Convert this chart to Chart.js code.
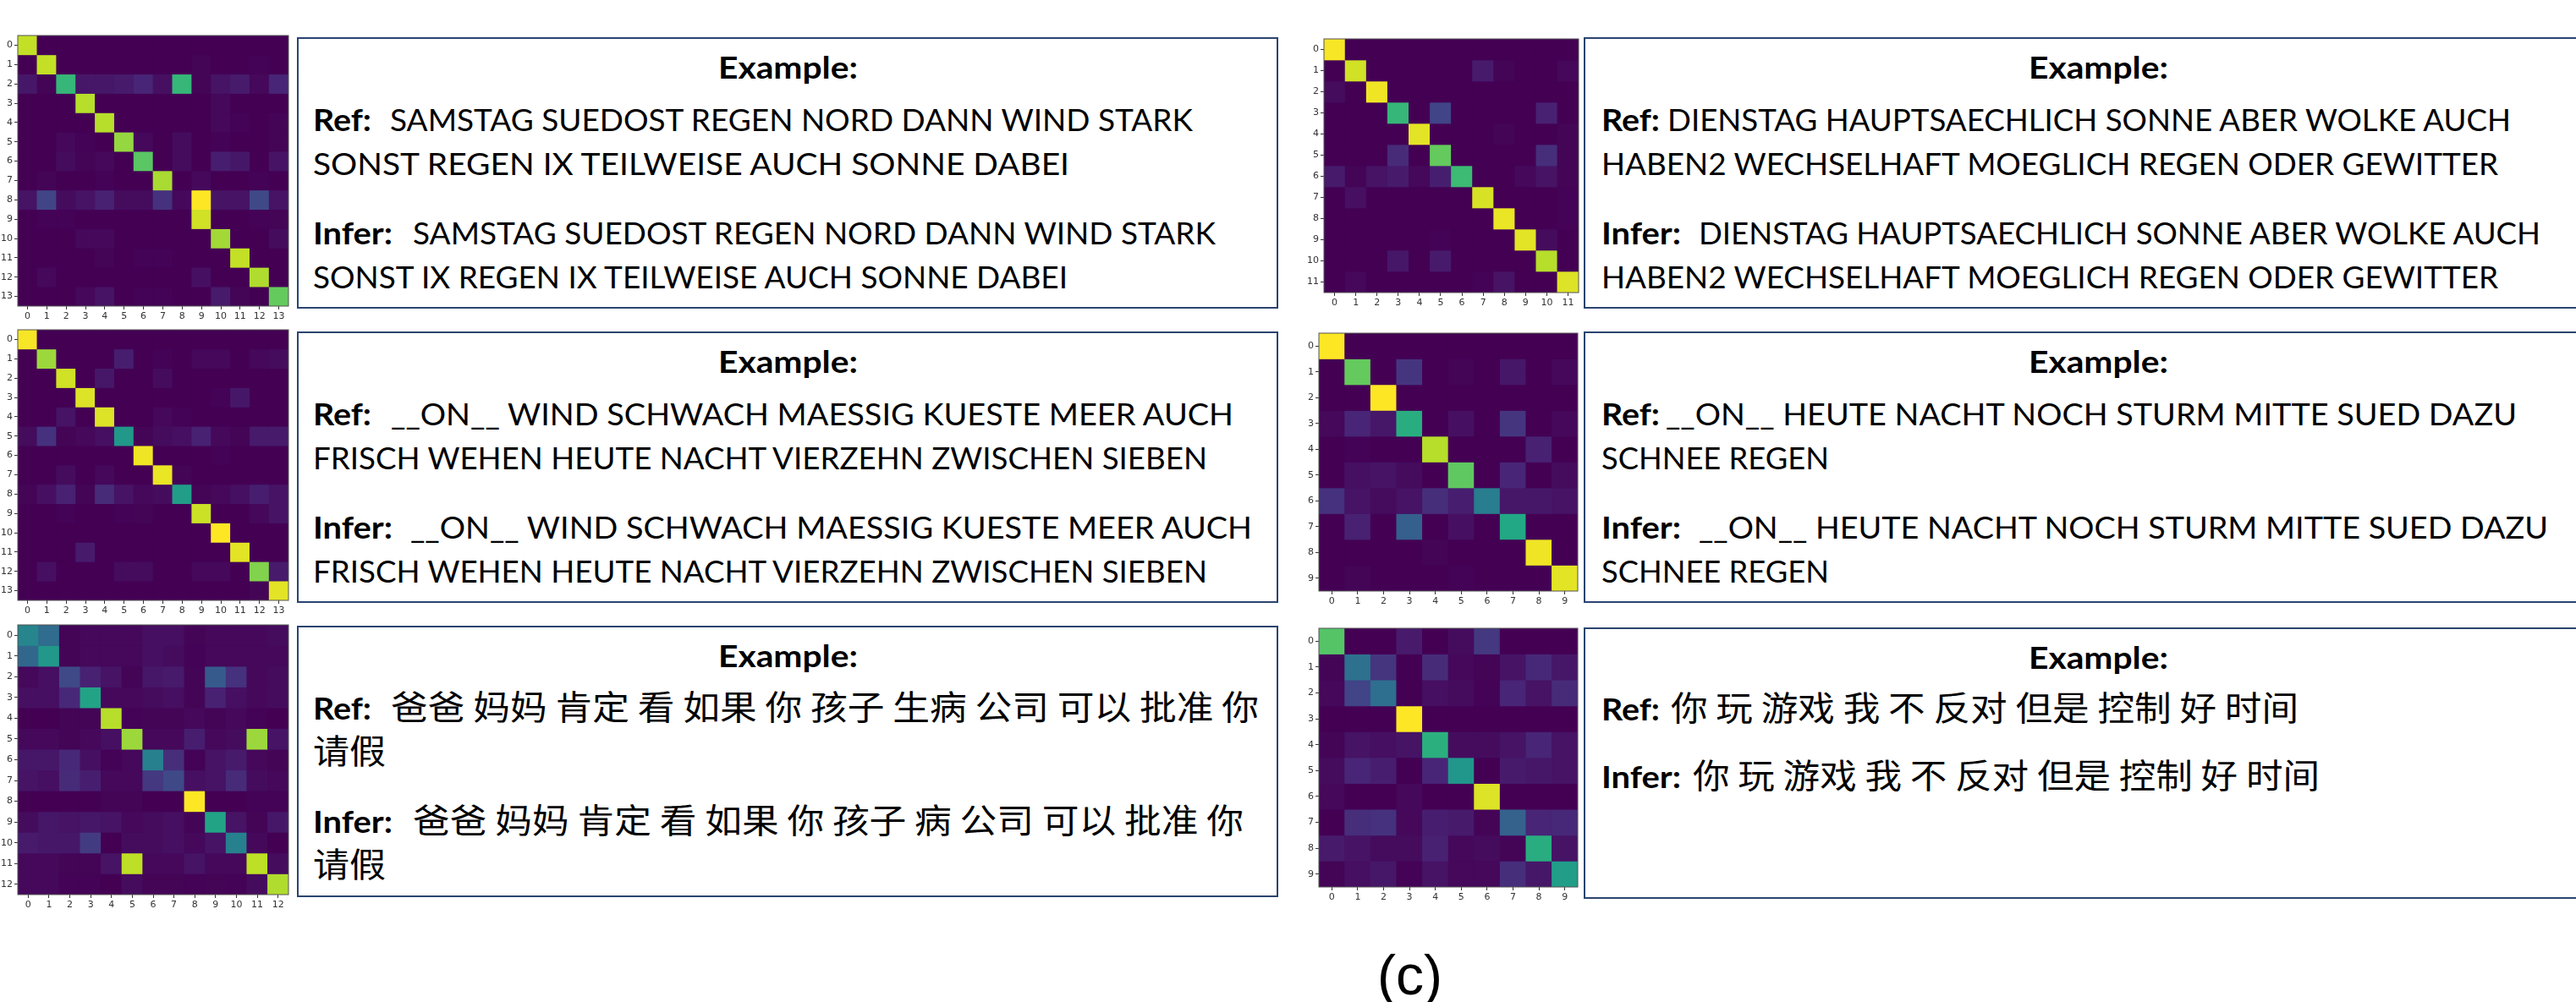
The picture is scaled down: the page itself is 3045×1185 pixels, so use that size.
<!DOCTYPE html>
<html>
<head>
<meta charset="utf-8">
<title>Confusion matrices</title>
<script src="https://cdn.jsdelivr.net/npm/chart.js@4"></script>
<style>
  html, body { margin: 0; padding: 0; background: #fff; width: 3045px; height: 1185px; overflow: hidden; }
  canvas { position: absolute; }
  .box { position: absolute; box-sizing: border-box; border: 2px solid #2b4470; }
  .line { position: absolute; white-space: pre; line-height: 0; font-family: Lato, "Noto Sans CJK SC", sans-serif; font-size: 36px; color: #000; transform-origin: left top; }
  .line i { display: inline-block; width: 0; height: 100px; }
  .bold { font-weight: 700; }
  .cjk { font-family: "Noto Sans CJK SC", sans-serif; font-size: 40px; }
  #caption { position: absolute; left: 1628px; top: 1120px; font: 66px/66px "Liberation Sans", sans-serif; color: #000; }
</style>
</head>
<body>
<div id="page"></div>
<div id="caption">(c)</div>
<script>
// valeurs (0 = violet, 1 = jaune)
const matrixA = [
  [.91,0,0,0,0,0,0,0,0,0,0,0,0,0],
  [0,.91,0,0,0,0,0,0,0,.01,0,0,.005,0],
  [.06,.01,.66,.06,.06,.07,.1,.04,.66,.01,.05,.07,.02,.1],
  [0,0,0,.89,0,0,0,0,0,0,.02,0,0,0],
  [0,0,0,0,.89,0,0,0,0,0,.02,.005,0,.01],
  [0,0,.02,.005,0,.84,.02,0,.03,0,.005,0,0,.01],
  [0,0,.03,.01,.02,0,.74,0,.03,0,.08,.06,0,.05],
  [0,.01,0,0,.005,0,0,.87,0,.02,0,0,.005,0],
  [.05,.2,.03,.05,.09,.03,.03,.14,.02,1,.05,.05,.22,.05],
  [0,.005,.005,0,0,0,0,0,0,.93,0,0,.005,.01],
  [0,0,0,.02,.02,0,0,0,0,0,.86,0,0,.03],
  [0,0,0,0,.01,0,.005,.005,0,0,0,.91,0,0],
  [0,.02,0,0,0,0,0,0,0,.04,0,0,.88,0],
  [0,0,0,.02,.05,0,.005,.005,0,0,.07,.01,0,.76]
];
const matrixB = [
  [.99,0,0,0,0,0,0,0,0,0,0,0,0,0],
  [0,.85,0,0,0,.08,0,.005,0,.02,.02,0,.02,.03],
  [0,0,.93,0,.06,0,0,.03,0,0,0,0,0,0],
  [0,0,0,.95,0,0,0,0,0,0,.005,.06,0,0],
  [0,0,.05,0,.95,0,0,.02,.005,0,0,0,0,0],
  [.03,.14,.01,.02,.04,.53,.01,.03,.04,.09,.02,.01,.07,.07],
  [0,0,0,0,0,0,.98,0,0,0,.005,0,0,0],
  [0,0,.03,0,.02,0,0,.97,.01,0,0,0,0,0],
  [.01,.04,.09,.01,.12,.05,.02,.03,.55,.01,.02,.04,.08,.05],
  [0,0,.005,0,0,.005,.01,0,0,.92,0,0,.02,.05],
  [0,0,0,0,0,0,0,0,0,0,1,0,0,0],
  [0,0,0,.07,0,0,0,0,0,0,0,.96,0,0],
  [0,.04,0,0,0,.03,.03,0,0,.02,.02,0,.81,.07],
  [0,0,0,0,0,0,0,0,0,0,0,0,.01,.96]
];
const matrixC = [
  [.45,.35,.01,.02,.02,.02,.04,.04,.01,.02,.02,.02,.03],
  [.33,.53,.01,.02,.02,.02,.04,.03,.005,.02,.02,.02,.02],
  [.02,.04,.22,.09,.05,.01,.06,.07,.01,.28,.14,.02,.03],
  [.04,.04,.11,.58,.02,.02,.03,.04,.01,.09,.04,.02,.03],
  [0,0,.01,.01,.89,.005,.01,.01,.02,.01,.02,.005,0],
  [.02,.02,.01,.02,.04,.85,.02,.02,.08,.02,.03,.85,.05],
  [.06,.06,.11,.04,.005,.02,.43,.13,.005,.05,.07,.02,.01],
  [.05,.04,.12,.08,.02,.02,.16,.22,.04,.05,.12,.03,.02],
  [0,0,0,0,.01,.01,0,0,1,0,0,.005,.005],
  [.03,.06,.05,.06,.05,.02,.03,.04,.01,.58,.05,.01,.06],
  [.07,.06,.06,.17,0,.03,.03,.04,.02,.05,.43,.02,0],
  [.02,.02,.01,.01,.05,.9,.02,.02,.05,.02,.02,.9,.03],
  [.02,.02,.005,.005,0,.03,.01,.01,.005,.01,.005,.03,.88]
];
const matrixD = [
  [.99,0,0,0,0,0,0,0,0,0,0,0],
  [0,.93,0,0,0,0,0,.07,.01,0,0,.02],
  [.03,0,.98,0,0,0,0,0,0,0,0,0],
  [0,0,0,.66,0,.2,0,0,0,0,.09,0],
  [0,0,0,0,.96,0,0,0,.01,0,0,.01],
  [0,0,0,.12,0,.76,0,0,0,0,.13,.01],
  [.07,.01,.05,.07,.02,.08,.68,0,0,.02,.05,.01],
  [0,.04,0,0,0,0,0,.94,0,0,0,.005],
  [0,0,0,0,0,0,0,0,.97,0,0,.005],
  [0,0,0,0,0,.005,0,0,0,.96,.03,0],
  [0,0,0,.06,0,.07,0,0,0,0,.89,0],
  [0,.02,0,0,0,0,0,.005,.05,0,0,.95]
];
const matrixE = [
  [1,0,0,0,0,0,0,0,0,0],
  [0,.76,0,.15,0,.01,0,.06,0,.02],
  [0,0,1,0,0,0,0,0,0,0],
  [.02,.1,.06,.62,0,.04,0,.15,0,.02],
  [0,.005,0,0,.89,0,0,0,.09,0],
  [0,.04,.05,.03,0,.75,0,.1,0,.03],
  [.14,.05,.03,.05,.13,.08,.42,.06,.06,.05],
  [0,.09,0,.3,0,.04,0,.6,0,0],
  [0,0,0,0,.01,0,0,0,.98,0],
  [0,.01,0,0,0,.005,0,0,0,.96]
];
const matrixF = [
  [.73,0,0,.07,0,.03,.16,0,0,0],
  [.01,.37,.15,0,.12,.02,.01,.05,.11,.06],
  [.02,.2,.36,0,.04,.03,.005,.1,.05,.12],
  [0,0,0,1,0,0,0,0,0,0],
  [.01,.05,.04,.05,.63,.03,.03,.05,.1,.05],
  [.03,.1,.08,0,.1,.52,0,.07,.06,.05],
  [.02,0,0,.02,0,0,.95,0,0,0],
  [0,.13,.14,.02,.08,.07,.01,.31,.1,.11],
  [.07,.05,.03,.03,.09,.02,.03,.01,.62,.05],
  [.01,.04,.06,.005,.05,.02,.02,.13,.06,.55]
];

const textA = ["SAMSTAG SUEDOST REGEN NORD DANN WIND STARK", "SONST REGEN IX TEILWEISE AUCH SONNE DABEI", "SAMSTAG SUEDOST REGEN NORD DANN WIND STARK", "SONST IX REGEN IX TEILWEISE AUCH SONNE DABEI"];
const textB = ["__ON__ WIND SCHWACH MAESSIG KUESTE MEER AUCH", "FRISCH WEHEN HEUTE NACHT VIERZEHN ZWISCHEN SIEBEN", "__ON__ WIND SCHWACH MAESSIG KUESTE MEER AUCH", "FRISCH WEHEN HEUTE NACHT VIERZEHN ZWISCHEN SIEBEN"];
const textC = ["爸爸 妈妈 肯定 看 如果 你 孩子 生病 公司 可以 批准 你", "请假", "爸爸 妈妈 肯定 看 如果 你 孩子 病 公司 可以 批准 你", "请假"];
const textD = ["DIENSTAG HAUPTSAECHLICH SONNE ABER WOLKE AUCH", "HABEN2 WECHSELHAFT MOEGLICH REGEN ODER GEWITTER", "DIENSTAG HAUPTSAECHLICH SONNE ABER WOLKE AUCH", "HABEN2 WECHSELHAFT MOEGLICH REGEN ODER GEWITTER"];
const textE = ["__ON__ HEUTE NACHT NOCH STURM MITTE SUED DAZU", "SCHNEE REGEN", "__ON__ HEUTE NACHT NOCH STURM MITTE SUED DAZU", "SCHNEE REGEN"];
const textF = ["你 玩 游戏 我 不 反对 但是 控制 好 时间", "你 玩 游戏 我 不 反对 但是 控制 好 时间"];

// couleurs viridis, tous les 0.1
const viridis = ["#440154","#482576","#414487","#355f8d","#2a788e","#21918c","#22a884","#44bf70","#7ad151","#bddf26","#fde725"];

function color(v) {
  const i = Math.min(Math.floor(v * 10), 9);
  const t = v * 10 - i;
  const a = parseInt(viridis[i].slice(1), 16), b = parseInt(viridis[i + 1].slice(1), 16);
  const mix = s => Math.round(((a >> s) & 255) * (1 - t) + ((b >> s) & 255) * t);
  return `rgb(${mix(16)},${mix(8)},${mix(0)})`;
}

const frame = {
  id: "frame",
  beforeDatasetsDraw(chart) {
    // fond violet pour cacher les joints entre cellules
    const { ctx, chartArea: c } = chart;
    ctx.fillStyle = viridis[0];
    ctx.fillRect(c.left, c.top, c.right - c.left, c.bottom - c.top);
  },
  afterDatasetsDraw(chart) {
    const { ctx, chartArea: c } = chart;
    ctx.save();
    ctx.strokeStyle = "#555";
    ctx.lineWidth = 1;
    ctx.strokeRect(c.left, c.top, c.right - c.left, c.bottom - c.top);
    ctx.restore();
  }
};

function heatmap(matrix, x0, y0, w, h) {
  const mLeft = 21, mBottom = 24, pad = 3;
  const n = matrix.length;
  const canvas = document.createElement("canvas");
  canvas.width = w + mLeft + pad;
  canvas.height = h + mBottom + pad;
  canvas.style.left = (x0 - mLeft) + "px";
  canvas.style.top = (y0 - pad) + "px";
  document.body.appendChild(canvas);
  const tickFont = { family: "DejaVu Sans", size: 11 };
  new Chart(canvas, {
    type: "bar",
    data: {
      labels: matrix.map((_, i) => String(i)),
      datasets: matrix.map((row, r) => ({
        data: row.map(() => [r - 0.5, r + 0.5]),
        backgroundColor: row.map(color),
        borderWidth: 0
      }))
    },
    options: {
      responsive: false,
      animation: false,
      grouped: false,
      barPercentage: 1,
      categoryPercentage: 1,
      layout: { padding: { top: pad, right: pad, left: 0, bottom: 0 } },
      plugins: { legend: { display: false }, tooltip: { enabled: false } },
      scales: {
        x: {
          grid: { offset: false, drawOnChartArea: false, color: "#333", tickLength: 4 },
          border: { display: false },
          ticks: { color: "#333", font: tickFont, padding: 2, maxRotation: 0, autoSkip: false },
          afterFit(s) { s.height = mBottom; s.paddingLeft = 0; s.paddingRight = 0; }
        },
        y: {
          type: "linear",
          reverse: true,
          min: -0.5,
          max: n - 0.5,
          grid: { drawOnChartArea: false, color: "#333", tickLength: 4 },
          border: { display: false },
          ticks: { color: "#333", font: tickFont, padding: 2, autoSkip: false, callback: v => String(v) },
          afterBuildTicks(s) { s.ticks = matrix.map((_, i) => ({ value: i })); },
          afterFit(s) { s.width = mLeft; s.paddingTop = 0; s.paddingBottom = 0; }
        }
      }
    },
    plugins: [frame]
  });
}

// une ligne de texte, posée sur sa ligne de base et ajustée à la largeur voulue
function addLine(str, left, baseline, width, cls) {
  const d = document.createElement("div");
  d.className = "line " + (cls || "");
  d.style.left = left + "px";
  d.style.top = (baseline - 100) + "px";
  d.innerHTML = "<i></i>" + str;
  document.body.appendChild(d);
  d.style.transform = `scaleX(${width / d.getBoundingClientRect().width})`;
}

function panel(lines, o) {
  const box = document.createElement("div");
  box.className = "box";
  box.style.cssText = `left:${o.left}px;top:${o.top}px;width:${o.width}px;height:${o.height}px`;
  document.body.appendChild(box);
  const cls = o.cjk ? "cjk" : "";
  addLine("Example:", o.exampleX, o.top + 49, 165, "bold");
  if (lines.length === 2) {
    addLine("Ref:", o.textX, o.top + 110, 69, "bold");
    addLine(lines[0], o.refX, o.top + 110, o.ends[0] - o.refX, cls);
    addLine("Infer:", o.textX, o.top + 190, 94, "bold");
    addLine(lines[1], o.inferX, o.top + 190, o.ends[1] - o.inferX, cls);
    return;
  }
  addLine("Ref:", o.textX, o.top + 111, 69, "bold");
  addLine(lines[0], o.refX, o.top + 111, o.ends[0] - o.refX, cls);
  addLine(lines[1], o.textX, o.top + 163, o.ends[1] - o.textX, cls);
  addLine("Infer:", o.textX, o.top + 245, 94, "bold");
  addLine(lines[2], o.inferX, o.top + 245, o.ends[2] - o.inferX, cls);
  addLine(lines[3], o.textX, o.top + 297, o.ends[3] - o.textX, cls);
}

heatmap(matrixA, 21, 42, 320, 320);
heatmap(matrixB, 21, 390, 320, 320);
heatmap(matrixC, 21, 739, 320, 319);
heatmap(matrixD, 1565, 46, 301, 300);
heatmap(matrixE, 1559, 394, 306, 305);
heatmap(matrixF, 1559, 743, 306, 306);

const leftCol = { left: 351, width: 1160, height: 321, textX: 370, exampleX: 849 };
const rightCol = { left: 1872, width: 1180, height: 321, textX: 1893, exampleX: 2398 };

panel(textA, { ...leftCol, top: 44, refX: 461, inferX: 488, ends: [1410, 1264, 1437, 1262] });
panel(textB, { ...leftCol, top: 392, refX: 462, inferX: 485, ends: [1458, 1427, 1480, 1427] });
panel(textC, { ...leftCol, top: 740, refX: 462, inferX: 488, ends: [1488, 456, 1470, 456], cjk: true });
panel(textD, { ...rightCol, top: 44, refX: 1971, inferX: 2008, ends: [2968, 2953, 3003, 2953] });
panel(textE, { ...rightCol, top: 392, refX: 1969, inferX: 2008, ends: [2975, 2162, 3012, 2162] });
panel(textF, { ...rightCol, top: 742, refX: 1975, inferX: 2001, ends: [2717, 2742], cjk: true });
</script>
</body>
</html>
